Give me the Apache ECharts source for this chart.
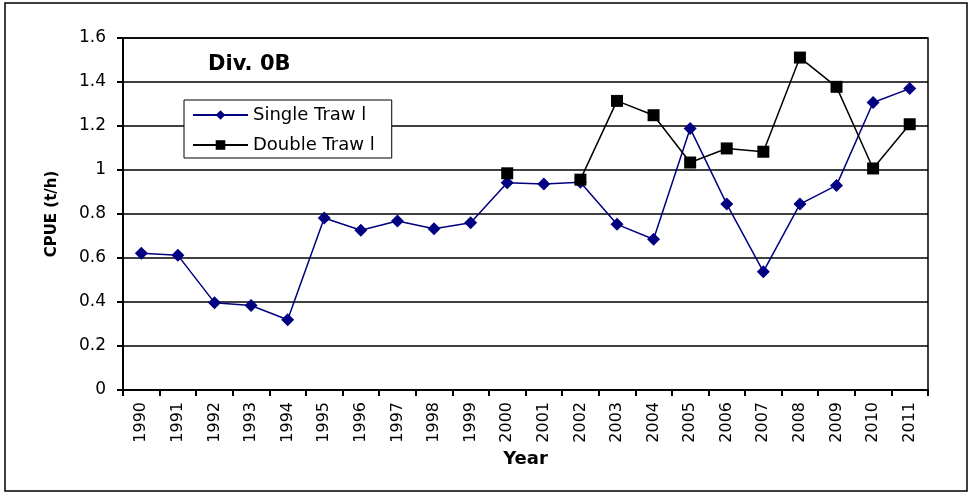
<!DOCTYPE html>
<html>
<head>
<meta charset="utf-8">
<script src="https://cdn.jsdelivr.net/npm/echarts@6/dist/echarts.min.js"></script>
<style>
  html, body { margin: 0; padding: 0; background: #fff; }
  #chart { width: 969px; height: 494px; }
</style>
</head>
<body>
<div id="chart"></div>
<script>
(() => {
    const years = ["1990", "1991", "1992", "1993", "1994", "1995", "1996", "1997", "1998", "1999",
        "2000", "2001", "2002", "2003", "2004", "2005", "2006", "2007", "2008", "2009", "2010", "2011"];
    const singleTrawl = [0.622, 0.612, 0.397, 0.384, 0.319, 0.782, 0.726, 0.768, 0.733, 0.760,
        0.942, 0.936, 0.944, 0.753, 0.685, 1.189, 0.845, 0.538, 0.845, 0.930, 1.307, 1.370];
    // no double trawl data before 2000, and 2001 is missing
    const doubleTrawl = [null, null, null, null, null, null, null, null, null, null,
        0.985, null, 0.956, 1.314, 1.249, 1.034, 1.098, 1.083, 1.511, 1.378, 1.007, 1.208];

    // the reference text is wide, DejaVu fits it better than Arial
    const FONT = "DejaVu Sans, sans-serif";
    const NAVY = "#000080";

    let chart = echarts.init(document.getElementById("chart"));
    let option = {
        animation: false,
        backgroundColor: "#fff",
        graphic: [{
            type: "rect",
            shape: { x: 5, y: 3, width: 962, height: 488 },
            style: { fill: null, stroke: "#000", lineWidth: 1.5 },
            silent: true
        }],
        title: {
            text: "Div. 0B",
            left: 203,
            top: 49,
            textStyle: { fontFamily: FONT, fontSize: 21, fontWeight: "bold", color: "#000" }
        },
        legend: {
            orient: "vertical",
            left: 184,
            top: 100,
            padding: [6, 17, 4, 8],
            itemWidth: 55,
            itemHeight: 12,
            itemGap: 12,
            backgroundColor: "#fff",
            borderColor: "#000",
            borderWidth: 1,
            data: ["Single Traw l", "Double Traw l"],
            textStyle: { fontFamily: FONT, fontSize: 18, color: "#000" }
        },
        grid: {
            left: 123,
            right: 41,
            top: 38,
            bottom: 104,
            show: true,
            borderColor: "#000",
            borderWidth: 1.5,
            backgroundColor: "#fff"
        },
        xAxis: {
            type: "category",
            data: years,
            boundaryGap: true,
            name: "Year",
            nameLocation: "middle",
            nameGap: 60,
            nameTextStyle: { fontFamily: FONT, fontSize: 18, fontWeight: "bold", color: "#000" },
            axisLine: { lineStyle: { color: "#000", width: 2 } },
            axisTick: { show: true, interval: 0, length: 6, lineStyle: { color: "#000", width: 2 } },
            axisLabel: { interval: 0, rotate: 90, margin: 12, fontFamily: FONT, fontSize: 16, color: "#000" },
            splitLine: { show: false }
        },
        yAxis: {
            type: "value",
            min: 0,
            max: 1.6,
            interval: 0.2,
            name: "CPUE (t/h)",
            nameLocation: "middle",
            nameGap: 63,
            nameRotate: 90,
            nameTextStyle: { fontFamily: FONT, fontSize: 15, fontWeight: "bold", color: "#000" },
            axisLine: { show: true, lineStyle: { color: "#000", width: 2 } },
            axisTick: { show: true, length: 6, lineStyle: { color: "#000", width: 2 } },
            axisLabel: { margin: 17, fontFamily: FONT, fontSize: 17, color: "#000" },
            splitLine: { show: true, lineStyle: { color: "#000", width: 1.5 } }
        },
        series: [
            {
                name: "Single Traw l",
                type: "line",
                data: singleTrawl,
                symbol: "diamond",
                symbolSize: 13,
                color: NAVY,
                lineStyle: { color: NAVY, width: 1.5 },
                itemStyle: { color: NAVY }
            },
            {
                name: "Double Traw l",
                type: "line",
                data: doubleTrawl,
                connectNulls: false,
                symbol: "rect",
                symbolSize: 12,
                color: "#000",
                lineStyle: { color: "#000", width: 1.5 },
                itemStyle: { color: "#000" }
            }
        ]
    };
    chart.setOption(option);
})();
</script>
</body>
</html>
